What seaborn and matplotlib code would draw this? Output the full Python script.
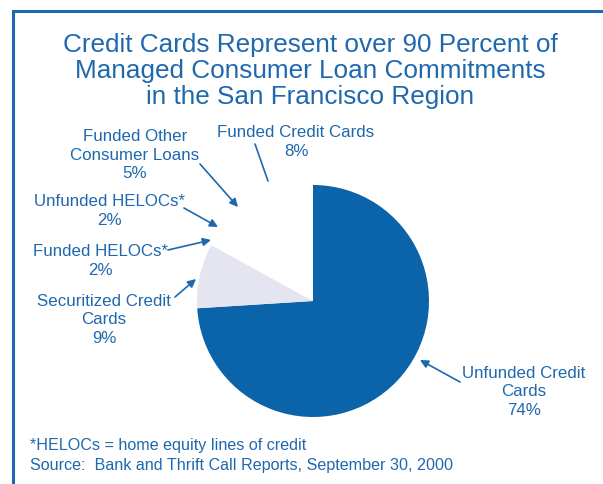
import matplotlib
matplotlib.use("Agg")
import matplotlib.pyplot as plt
import seaborn as sns

# data
labels = ["Unfunded Credit\nCards\n74%", "Securitized Credit\nCards\n9%",
          "Funded HELOCs*\n2%", "Unfunded HELOCs*\n2%",
          "Funded Other\nConsumer Loans\n5%", "Funded Credit Cards\n8%"]
values = [74, 9, 2, 2, 5, 8]
colors = ["#0b63a9", "#e5e5f1", "white", "white", "white", "white"]

blue = "#1f68ad"

sns.set_theme(style="white")
plt.rcParams['font.family'] = ['Liberation Sans', 'DejaVu Sans']

W, H = 603, 485
fig = plt.figure(figsize=(W / 100, H / 100), dpi=100)
ax = fig.add_axes([0, 0, 1, 1])

def Y(y):
    # image pixel row -> data y
    return H - y

ax.pie(values, colors=colors, startangle=90, counterclock=False,
       center=(313, Y(302)), radius=116, wedgeprops=dict(linewidth=0))
ax.set_xlim(0, W)
ax.set_ylim(0, H)
ax.set_aspect('equal')
ax.axis('off')

# frame (cut at right/bottom)
ax.plot([12.5, 12.5, W + 5], [Y(H + 5), Y(12), Y(12)], color=blue, lw=2.2,
        solid_joinstyle='miter')

title = ("Credit Cards Represent over 90 Percent of\n"
         "Managed Consumer Loan Commitments\n"
         "in the San Francisco Region")
ax.text(310, Y(71), title, ha='center', va='center', fontsize=18.8,
        color=blue, linespacing=1.08)

# label centre and arrow (tail -> tip), image pixel coords
label_pos = [(524, 392), (104, 320), (100, 261), (109, 211), (135, 155), (296, 142)]
arrows = [((460, 383), (420, 361)), ((175, 298), (196, 280)),
          ((168, 251), (211, 241)), ((184, 209), (218, 228)),
          ((200, 165), (238, 208)), ((255, 145), (268, 182))]

for i, (lab, (lx, ly), (tail, tip)) in enumerate(zip(labels, label_pos, arrows)):
    ax.text(lx, Y(ly), lab, ha='center', va='center', fontsize=12.2,
            color=blue, linespacing=1.3)
    style = '-' if i == 5 else '-|>'
    ax.annotate('', xy=(tip[0], Y(tip[1])), xytext=(tail[0], Y(tail[1])),
                arrowprops=dict(arrowstyle=style, color=blue, lw=1.2,
                                mutation_scale=12, shrinkA=0, shrinkB=0))

ax.text(30, Y(446), "*HELOCs = home equity lines of credit", ha='left',
        va='center', fontsize=11.6, color=blue)
ax.text(30, Y(466), "Source:  Bank and Thrift Call Reports, September 30, 2000",
        ha='left', va='center', fontsize=11.6, color=blue)

fig.savefig("out.png", dpi=100)
